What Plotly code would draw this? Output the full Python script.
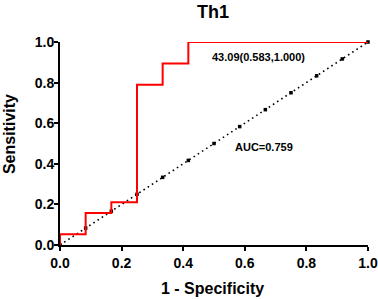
import plotly.graph_objects as go

# ROC step curve (1 - specificity, sensitivity)
roc_fpr = [0.0, 0.0, 0.0833, 0.0833, 0.1667, 0.1667, 0.25, 0.25, 0.3333, 0.3333, 0.4167, 0.4167, 1.0]
roc_tpr = [0.0, 0.0526, 0.0526, 0.1579, 0.1579, 0.2105, 0.2105, 0.7895, 0.7895, 0.8947, 0.8947, 1.0, 1.0]

# reference diagonal points
diag_x = [0, 1/12, 2/12, 3/12, 4/12, 5/12, 6/12, 7/12, 8/12, 9/12, 10/12, 11/12, 1.0]
diag_y = [0, 1/12, 2/12, 3/12, 4/12, 5/12, 6/12, 7/12, 8/12, 9/12, 10/12, 11/12, 1.0]

tick_vals = [0.0, 0.2, 0.4, 0.6, 0.8, 1.0]
tick_text = ["0.0", "0.2", "0.4", "0.6", "0.8", "1.0"]

title_text = "Th1"
x_title = "1 - Specificity"
y_title = "Sensitivity"
cutoff_label = "43.09(0.583,1.000)"
auc_label = "AUC=0.759"

FONT = "Liberation Sans, Arial, sans-serif"

fig = go.Figure()
fig.add_trace(go.Scatter(
    x=diag_x, y=diag_y, mode="lines+markers",
    line=dict(color="black", width=1.6, dash="1.6px,3.4px"),
    marker=dict(symbol="square", size=3.5, color="black"),
    cliponaxis=False, showlegend=False, hoverinfo="skip"))
fig.add_trace(go.Scatter(
    x=roc_fpr, y=roc_tpr, mode="lines",
    line=dict(color="#ff0000", width=2),
    cliponaxis=False, showlegend=False))

fig.add_annotation(x=0.643, y=0.925, text=cutoff_label, showarrow=False,
                   font=dict(family=FONT, size=11, color="black", weight="bold"))
fig.add_annotation(x=0.662, y=0.483, text=auc_label, showarrow=False,
                   font=dict(family=FONT, size=11, color="black", weight="bold"))

# axis titles
fig.add_annotation(x=0.495, y=-0.215, xref="paper", yref="paper", text=x_title,
                   showarrow=False, xanchor="center", yanchor="middle",
                   font=dict(family=FONT, size=16, color="black", weight="bold"))
fig.add_annotation(x=-0.162, y=0.547, xref="paper", yref="paper", text=y_title,
                   showarrow=False, xanchor="center", yanchor="middle", textangle=-90,
                   font=dict(family=FONT, size=16, color="black", weight="bold"))

axis_common = dict(
    range=[0, 1], tickvals=tick_vals, ticktext=tick_text,
    showgrid=False, zeroline=False, showline=True, automargin=False,
    linecolor="black", linewidth=2, ticks="outside", ticklen=4,
    tickwidth=2, tickcolor="black",
    tickfont=dict(family=FONT, size=14, color="black", weight="bold"),
)

fig.update_layout(
    width=378, height=299,
    margin=dict(l=60, r=10, t=42, b=54),
    paper_bgcolor="white", plot_bgcolor="white",
    title=dict(text=title_text, x=0.5635, xanchor="center", y=0.962, yanchor="middle",
               yref="container",
               font=dict(family=FONT, size=18, color="black", weight="bold")),
    xaxis=dict(**axis_common),
    yaxis=dict(**axis_common, ticklabelstandoff=-3),
)

fig.write_html("out.html", config={"displayModeBar": False},
               post_script="document.body.style.margin='0';document.body.style.overflow='hidden';")
